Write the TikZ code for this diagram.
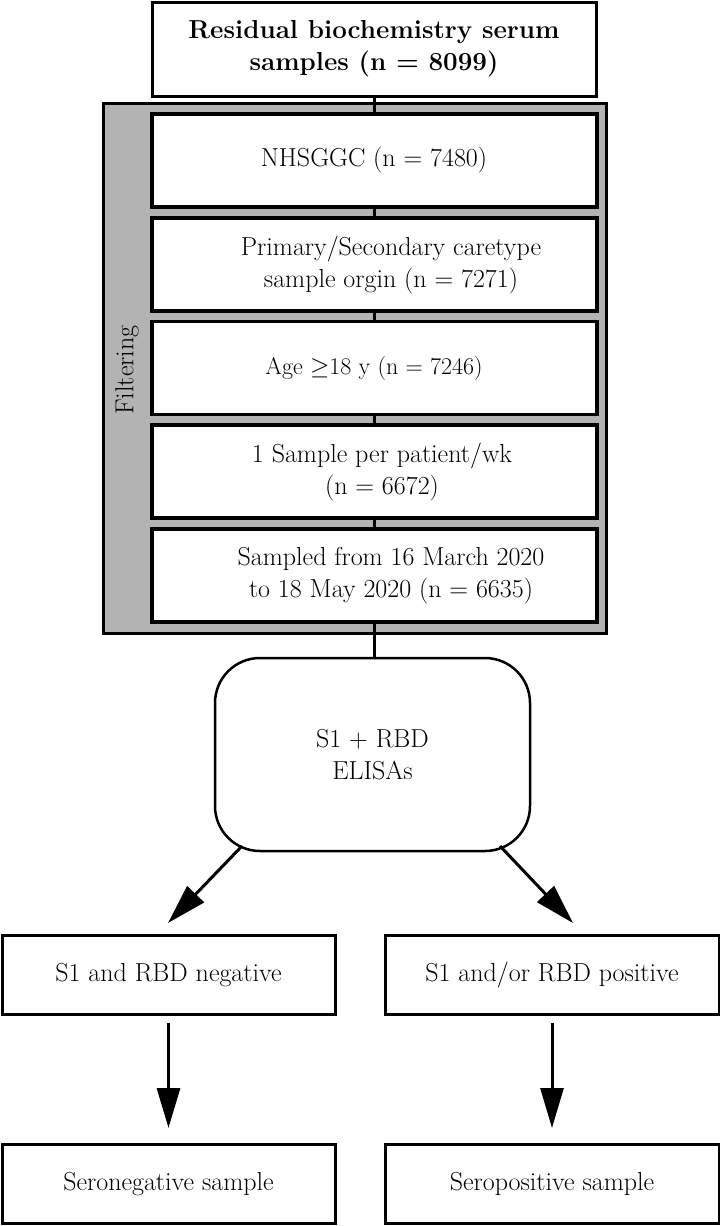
\documentclass[tikz,border=0pt]{standalone}
\usepackage{fontspec}
\usetikzlibrary{arrows.meta}
\definecolor{filtgray}{HTML}{B3B3B3}
\begin{document}
\begin{tikzpicture}[x=1pt,y=-1pt,
  every node/.style={font=\fontsize{26}{32}\selectfont},
  topbox/.style={draw, line width=3pt, fill=white, minimum width=444pt, minimum height=94pt, inner sep=0pt, align=center},
  fbox/.style={draw, line width=3.5pt, fill=white, minimum width=445pt, minimum height=93pt, inner sep=0pt},
  rbox/.style={draw, line width=2.5pt, fill=white, rounded corners=45pt, minimum width=315pt, minimum height=193pt, inner sep=0pt, align=center},
  bbox/.style={draw, line width=3pt, fill=white, minimum width=333pt, minimum height=79pt, inner sep=0pt, align=center},
  txt/.style={inner sep=0pt, align=center},
  conn/.style={line width=3pt},
  arr/.style={line width=3pt, -{Triangle[length=40pt,width=23pt]}}
]
\useasboundingbox (0,0) rectangle (720,1226);
\fill[white] (0,0) rectangle (720,1226);

% top box
\node[topbox, font=\fontsize{26}{32}\selectfont\bfseries] (top) at (374,49) {Residual biochemistry serum\\samples (n = 8099)};

% filtering frame
\node[draw, line width=3pt, fill=filtgray, minimum width=503pt, minimum height=530pt, inner sep=0pt] (frame) at (354.5,368) {};
\node[txt, rotate=90] (filt) at (127,370) {Filtering};

% inner boxes
\node[fbox] (f1) at (374.5,160.5) {};
\node[fbox] (f2) at (374.5,264.5) {};
\node[fbox] (f3) at (374.5,368) {};
\node[fbox] (f4) at (374.5,471.5) {};
\node[fbox] (f5) at (374.5,575.5) {};

\node[txt] (t1) at (374,160) {NHSGGC (n = 7480)};
\node[txt] (t2) at (391,265) {Primary/Secondary caretype\\sample orgin (n = 7271)};
\node[txt, font=\fontsize{24}{30}\selectfont] (t3) at (374,369) {Age $\geq$18 y (n = 7246)};
\node[txt] (t4) at (382,472) {1 Sample per patient/wk\\(n = 6672)};
\node[txt] (t5) at (391,576) {Sampled from 16 March 2020\\to 18 May 2020 (n = 6635)};

% rounded box
\node[rbox] (elisa) at (372.5,754.5) {S1 + RBD\\ELISAs};

% bottom boxes
\node[bbox] (neg) at (168.5,975) {S1 and RBD negative};
\node[bbox, minimum width=334pt] (pos) at (552,975) {S1 and/or RBD positive};
\node[bbox] (seroneg) at (168.5,1184) {Seronegative sample};
\node[bbox, minimum width=334pt] (seropos) at (552,1184) {Seropositive sample};

% connectors
\draw[conn] (top.south -| 374,0) -- (f1.north -| 374,0);
\draw[conn] (f1.south -| 374,0) -- (f2.north -| 374,0);
\draw[conn] (f2.south -| 374,0) -- (f3.north -| 374,0);
\draw[conn] (f3.south -| 374,0) -- (f4.north -| 374,0);
\draw[conn] (f4.south -| 374,0) -- (f5.north -| 374,0);
\draw[conn] (f5.south -| 374,0) -- (elisa.north -| 374,0);

\coordinate (d1s) at (242,846);
\coordinate (d1e) at (168,923);
\coordinate (d2s) at (500,846);
\coordinate (d2e) at (573,923);
\draw[arr] (d1s) -- (d1e);
\draw[arr] (d2s) -- (d2e);

\draw[arr, shorten <=7pt, shorten >=15pt] (neg) -- (seroneg);
\draw[arr, shorten <=7pt, shorten >=15pt] (pos) -- (seropos);
\end{tikzpicture}
\end{document}
